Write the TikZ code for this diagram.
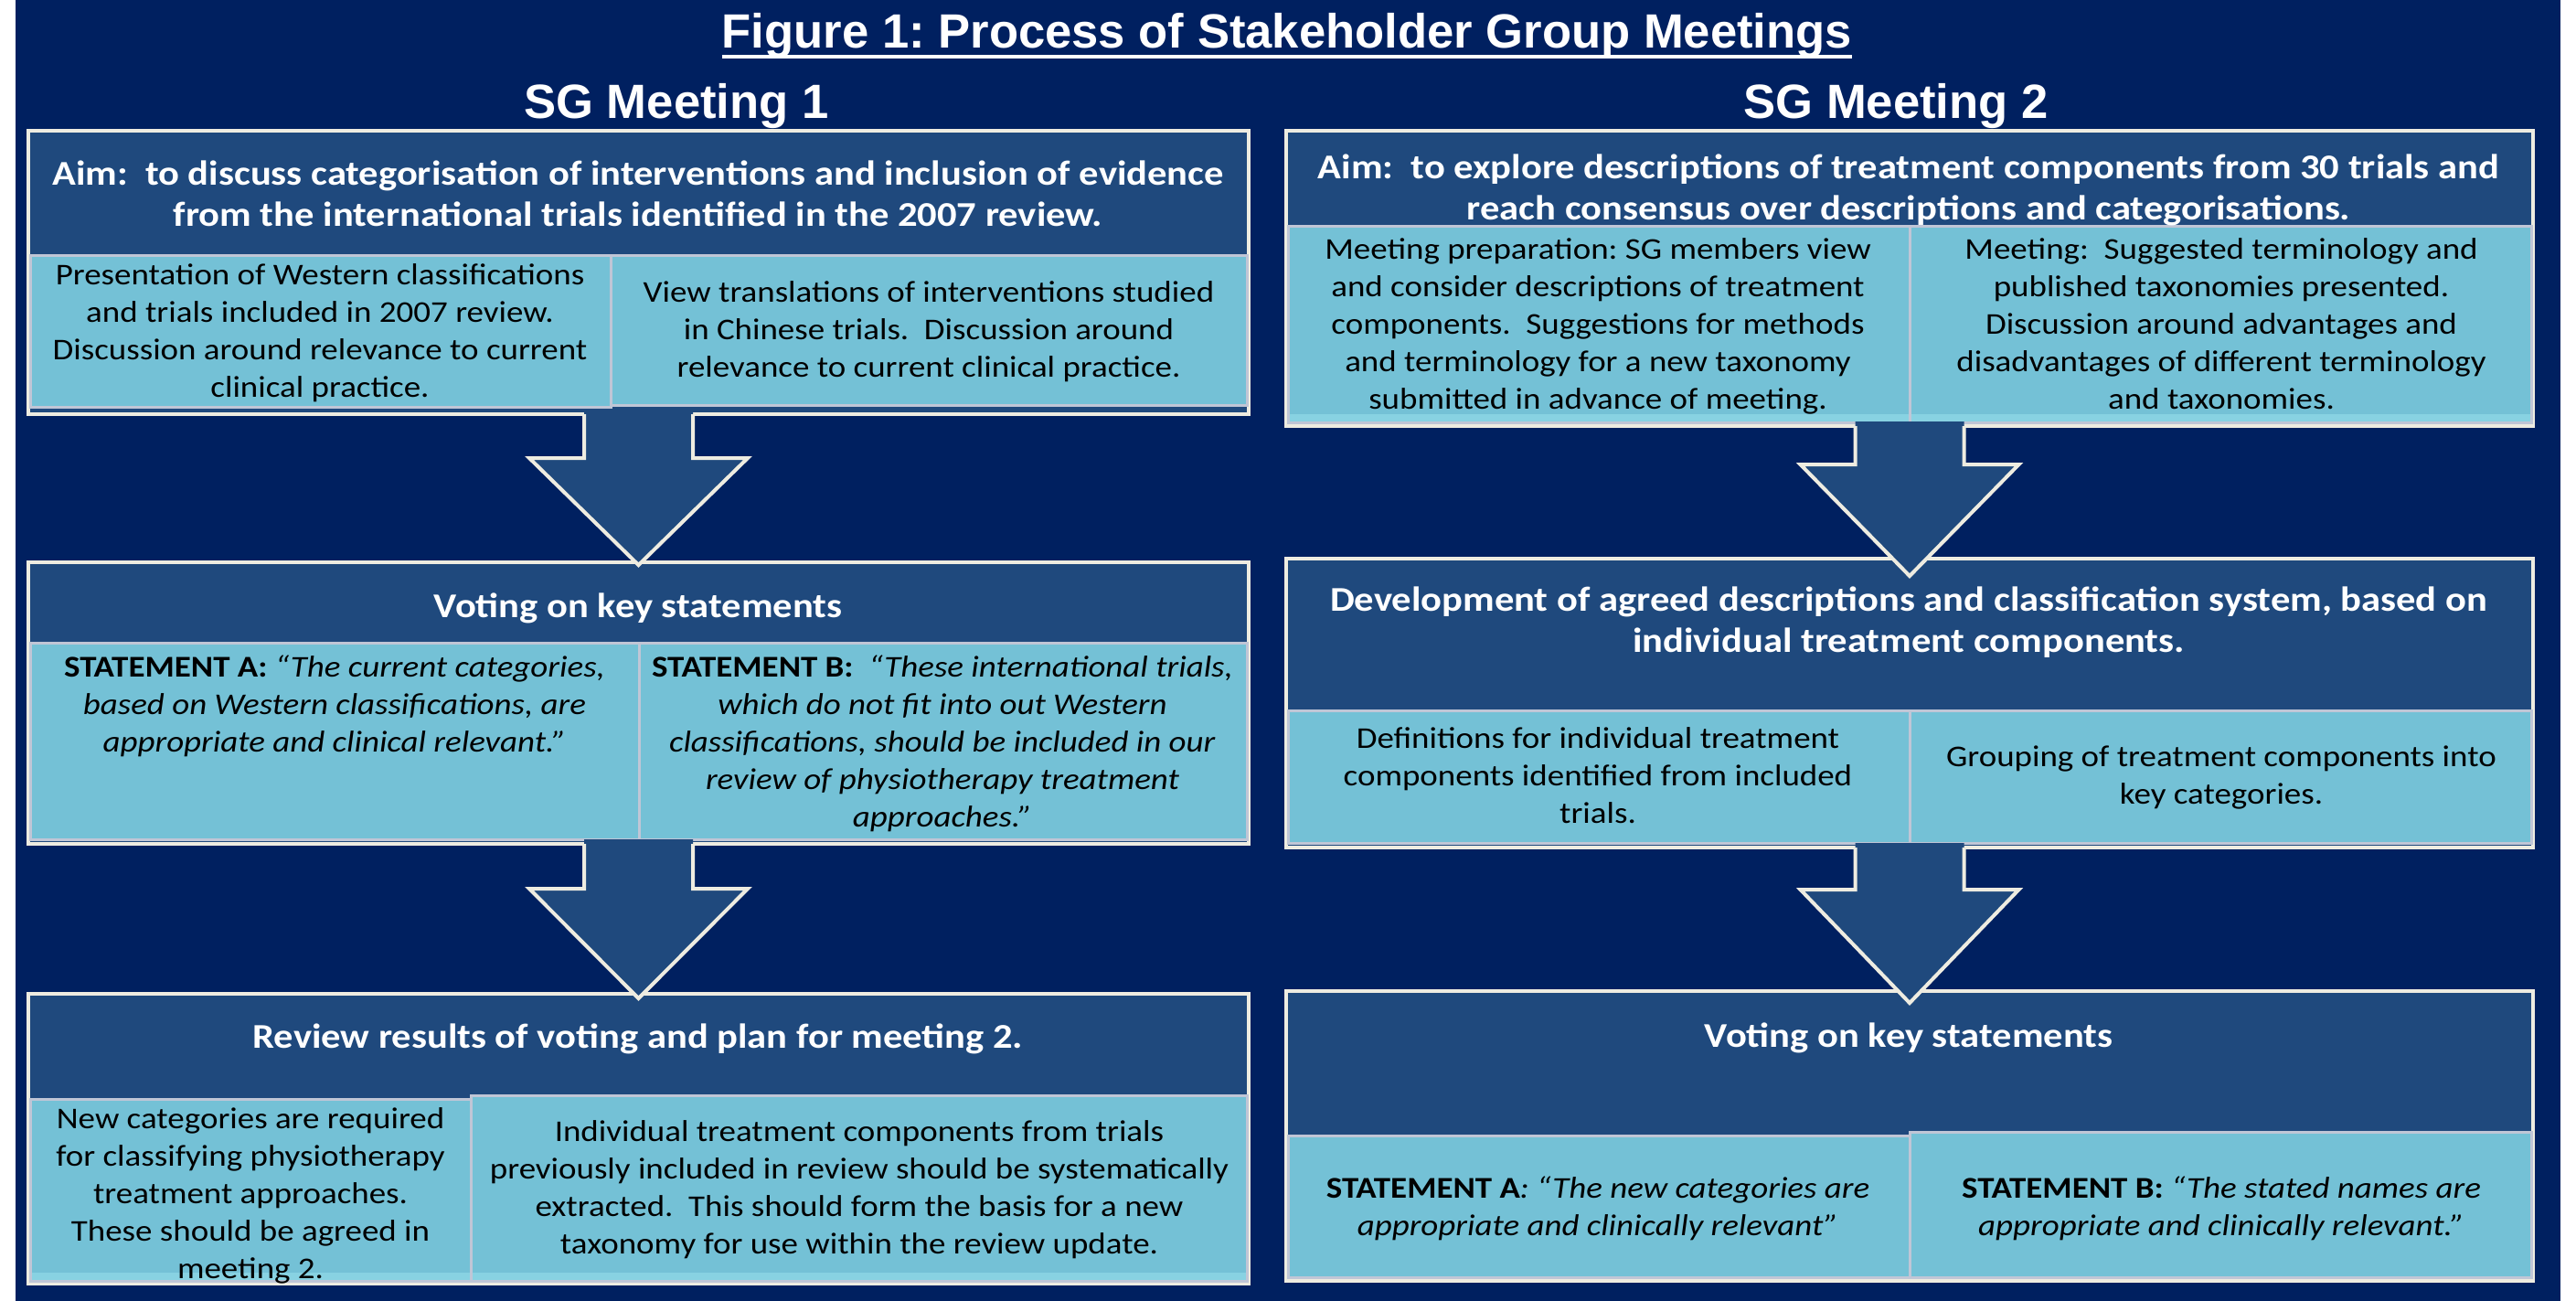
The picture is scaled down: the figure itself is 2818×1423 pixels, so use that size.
\documentclass[tikz,border=0pt]{standalone}
\usepackage{fontspec}
\setmainfont{Carlito}[FakeStretch=1.12]
\newfontfamily\headfont{Liberation Sans}
\usetikzlibrary{calc}

\definecolor{bgnavy}{HTML}{002060}
\definecolor{hdrblue}{HTML}{1F497D}
\definecolor{lightaqua}{HTML}{74C1D6}
\definecolor{aquaband}{HTML}{88D2E2}
\definecolor{cream}{HTML}{EEECE1}
\definecolor{subedge}{HTML}{C0C6D6}

\tikzset{
  outerbox/.style={draw=cream, line width=4.5pt, fill=hdrblue, inner sep=0pt, outer sep=0pt},
  subbox/.style={draw=subedge, line width=3pt, fill=lightaqua, inner sep=0pt, outer sep=0pt},
  hdrtext/.style={text=white, font=\fontsize{38}{45}\selectfont\bfseries, align=center, inner sep=0pt,
    yshift=-4pt, execute at begin node=\strut, execute at end node=\strut},
  bodytext/.style={text=black, font=\fontsize{33}{41}\selectfont, align=center, inner sep=0pt,
    yshift=-3pt, execute at begin node=\strut, execute at end node=\strut},
  bigtitle/.style={text=white, font=\headfont\bfseries\fontsize{52.6}{60}\selectfont, inner sep=0pt, anchor=base},
}

% rectangle node given by its two corners
\newcommand\panel[6]{%
  \node[#6, minimum width={(#4-#2)*1pt}, minimum height={(#5-#3)*1pt}] (#1) at ({(#2+#4)/2},{(#3+#5)/2}) {};}

% pale strip along the lower edge of a panel
\newcommand\lowband[1]{%
  \fill[aquaband] ([xshift=1.5pt,yshift=1.5pt]#1.south west) rectangle ([xshift=-1.5pt,yshift=9pt]#1.south east);}

% block arrow from the bottom of one panel into the top of the next
\newcommand\blockdown[4]{%
  \path[fill=hdrblue] let \p1=(#1.south), \p2=(#2.north) in
    (\x1-59.5pt,\y1+5pt) -- (\x1-59.5pt,\y1-#3pt) -- (\x1-119.5pt,\y1-#3pt) -- (\x1,\y2-#4pt)
    -- (\x1+119.5pt,\y1-#3pt) -- (\x1+59.5pt,\y1-#3pt) -- (\x1+59.5pt,\y1+5pt) -- cycle;
  \draw[cream, line width=4pt, line join=miter] let \p1=(#1.south), \p2=(#2.north) in
    (\x1-59.5pt,\y1) -- (\x1-59.5pt,\y1-#3pt) -- (\x1-119.5pt,\y1-#3pt) -- (\x1,\y2-#4pt)
    -- (\x1+119.5pt,\y1-#3pt) -- (\x1+59.5pt,\y1-#3pt) -- (\x1+59.5pt,\y1);}

\begin{document}
\frenchspacing
\begin{tikzpicture}[x=1pt,y=-1pt]
\useasboundingbox (0,0) rectangle (2818,1423);
\fill[white] (0,0) rectangle (2818,1423);
\fill[bgnavy] (17,0) rectangle (2801,1423);

% headings
\node[bigtitle] (title) at (1408,53) {Figure 1: Process of Stakeholder Group Meetings};
\draw[white, line width=4pt] ([yshift=-9pt]title.base west) -- ([yshift=-9pt]title.base east);
\node[bigtitle] (m1) at (740,130) {SG Meeting 1};
\node[bigtitle] (m2) at (2074,130) {SG Meeting 2};

% ---------- meeting 1 ----------
\panel{L1}{31}{143}{1366}{453}{outerbox}
\panel{L1a}{33}{280}{668}{445}{subbox}
\panel{L1b}{668}{280}{1364}{443}{subbox}

\panel{L2}{31}{615}{1366}{923}{outerbox}
\panel{L2a}{33}{703}{699}{918}{subbox}
\panel{L2b}{699}{703}{1364}{918}{subbox}

\panel{L3}{31}{1087}{1366}{1404}{outerbox}
\panel{L3a}{33}{1202}{515}{1401}{subbox}
\panel{L3b}{515}{1198}{1364}{1401}{subbox}
\lowband{L3a}
\lowband{L3b}

% ---------- meeting 2 ----------
\panel{R1}{1407}{143}{2771}{466}{outerbox}
\panel{R1a}{1409}{248}{2089}{462}{subbox}
\panel{R1b}{2089}{248}{2769}{462}{subbox}
\lowband{R1a}
\lowband{R1b}

\panel{R2}{1407}{611}{2771}{927}{outerbox}
\panel{R2a}{1409}{777}{2089}{922}{subbox}
\panel{R2b}{2089}{777}{2769}{922}{subbox}

\panel{R3}{1407}{1084}{2771}{1401}{outerbox}
\panel{R3a}{1409}{1242}{2089}{1397}{subbox}
\panel{R3b}{2089}{1238}{2769}{1397}{subbox}

% flow arrows
\blockdown{L1}{L2}{48}{3}
\blockdown{L2}{L3}{49}{5}
\blockdown{R1}{R2}{42}{19}
\blockdown{R2}{R3}{46}{13}

% ---------- texts, meeting 1 ----------
\node[hdrtext] (tL1) at (698,214) {Aim:~ to discuss categorisation of interventions and inclusion of evidence\\from the international trials identified in the 2007 review.};
\node[bodytext] (tL1a) at (350,365) {Presentation of Western classifications\\and trials included in 2007 review.\\Discussion around relevance to current\\clinical practice.};
\node[bodytext] (tL1b) at (1016,363) {View translations of interventions studied\\in Chinese trials.~ Discussion around\\relevance to current clinical practice.};

\node[hdrtext] (tL2) at (698,662) {Voting on key statements};
\node[bodytext] (tL2a) at (366,773) {\textbf{STATEMENT A:} \textit{“The current categories,}\\\textit{based on Western classifications, are}\\\textit{appropriate and clinical relevant.”}};
\node[bodytext] (tL2b) at (1031,814) {\textbf{STATEMENT B:}~ \textit{“These international trials,}\\\textit{which do not fit into out Western}\\\textit{classifications, should be included in our}\\\textit{review of physiotherapy treatment}\\\textit{approaches.”}};

\node[hdrtext] (tL3) at (698,1133) {Review results of voting and plan for meeting 2.};
\node[bodytext] (tL3a) at (274,1308) {New categories are required\\for classifying physiotherapy\\treatment approaches.\\These should be agreed in\\meeting 2.};
\node[bodytext] (tL3b) at (940,1302) {Individual treatment components from trials\\previously included in review should be systematically\\extracted.~ This should form the basis for a new\\taxonomy for use within the review update.};

% ---------- texts, meeting 2 ----------
\node[hdrtext] (tR1) at (2088,207) {Aim:~ to explore descriptions of treatment components from 30 trials and\\reach consensus over descriptions and categorisations.};
\node[bodytext] (tR1a) at (1748,357) {Meeting preparation: SG members view\\and consider descriptions of treatment\\components.~ Suggestions for methods\\and terminology for a new taxonomy\\submitted in advance of meeting.};
\node[bodytext] (tR1b) at (2430,357) {Meeting:~ Suggested terminology and\\published taxonomies presented.\\Discussion around advantages and\\disadvantages of different terminology\\and taxonomies.};

\node[hdrtext] (tR2) at (2088,680) {Development of agreed descriptions and classification system, based on\\individual treatment components.};
\node[bodytext] (tR2a) at (1748,851) {Definitions for individual treatment\\components identified from included\\trials.};
\node[bodytext] (tR2b) at (2430,851) {Grouping of treatment components into\\key categories.};

\node[hdrtext] (tR3) at (2088,1132) {Voting on key statements};
\node[bodytext] (tR3a) at (1748,1322) {\textbf{STATEMENT A}\textit{: “The new categories are}\\\textit{appropriate and clinically relevant”}};
\node[bodytext] (tR3b) at (2430,1322) {\textbf{STATEMENT B:} \textit{“The stated names are}\\\textit{appropriate and clinically relevant.”}};
\end{tikzpicture}
\end{document}
